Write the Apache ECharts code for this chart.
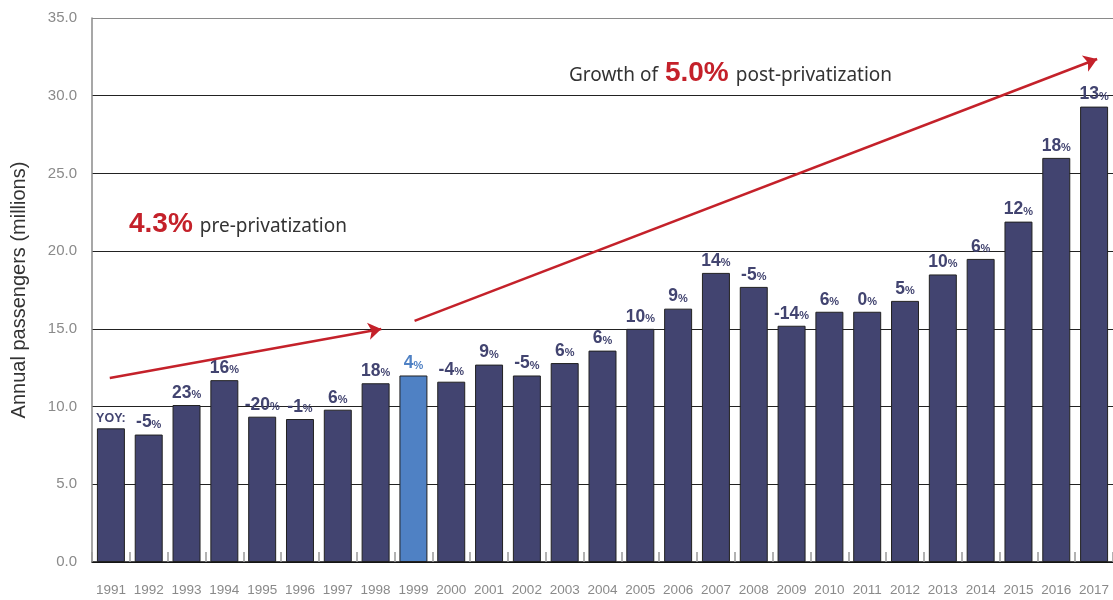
<!DOCTYPE html>
<html>
<head>
<meta charset="utf-8">
<script src="https://cdn.jsdelivr.net/npm/echarts@6/dist/echarts.min.js"></script>
<style>
  html, body { margin: 0; padding: 0; background: #fff; }
  #chart { width: 1113px; height: 600px; }
</style>
</head>
<body>
<div id="chart"></div>
<script>
// Annual passengers per year (millions)
const years = ['1991','1992','1993','1994','1995','1996','1997','1998','1999','2000','2001','2002','2003','2004',
               '2005','2006','2007','2008','2009','2010','2011','2012','2013','2014','2015','2016','2017'];
const passengers = [8.6, 8.2, 10.1, 11.7, 9.35, 9.2, 9.8, 11.5, 12.0, 11.6, 12.7, 12.0, 12.8, 13.6,
                    15.0, 16.3, 18.6, 17.7, 15.2, 16.1, 16.1, 16.8, 18.5, 19.5, 21.9, 26.0, 29.3];
// Year-over-year change, percent (first year carries the "YOY:" caption)
const yoyGrowth = [null, -5, 23, 16, -20, -1, 6, 18, 4, -4, 9, -5, 6, 6,
                   10, 9, 14, -5, -14, 6, 0, 5, 10, 6, 12, 18, 13];
const yTicks = [0, 5, 10, 15, 20, 25, 30, 35];
const highlightYear = '1999';

// Trend arrows in (category index, millions)
const preArrow = [[-0.03, 11.84], [7.15, 14.99]];
const postArrow = [[8.03, 15.51], [26.08, 32.36]];

const NAVY = '#424470';
const LIGHT = '#4f81c4';
const RED = '#c4212a';
const SANS = 'Liberation Sans, Arial, sans-serif';

const barData = passengers.map((v, i) => {
  const c = years[i] === highlightYear ? LIGHT : NAVY;
  return {
    value: v,
    itemStyle: { color: c },
    label: {
      formatter: yoyGrowth[i] === null ? '{y|YOY:}' : '{v|' + yoyGrowth[i] + '}{p|%}',
      rich: {
        v: { fontSize: 17.5, fontWeight: 'bold', color: c, fontFamily: SANS },
        p: { fontSize: 11, fontWeight: 'bold', color: c, fontFamily: SANS, padding: [4, 0, 0, 0] },
        y: { fontSize: 12.5, fontWeight: 'bold', color: c, fontFamily: SANS }
      }
    }
  };
});

const gridLineColors = yTicks.map((t, i) => i === yTicks.length - 1 ? '#8a8a8a' : '#222');

const chart = echarts.init(document.getElementById('chart'), null, { renderer: 'canvas' });
chart.setOption({
  animation: false,
  grid: { left: 92, top: 18, bottom: 38, width: 1023, containLabel: false },
  xAxis: [{
    type: 'category',
    data: years,
    axisLine: { lineStyle: { color: '#111', width: 1.5 } },
    axisTick: { show: true, inside: true, length: 10, lineStyle: { color: '#999', width: 1.5 } },
    axisLabel: { color: '#8a8a8a', fontSize: 13.5, margin: 21, fontFamily: SANS, interval: 0 }
  }, {
    type: 'value',
    min: -0.5, max: 26.5,
    show: false
  }],
  yAxis: {
    type: 'value',
    min: 0, max: 35, interval: 5,
    name: 'Annual passengers (millions)',
    nameLocation: 'middle',
    nameGap: 63,
    nameTextStyle: { color: '#333', fontSize: 20, fontFamily: SANS },
    axisLine: { show: true, onZero: false, lineStyle: { color: '#8a8a8a', width: 1.5 } },
    axisTick: { show: false },
    axisLabel: { color: '#8a8a8a', fontSize: 15, margin: 15, fontFamily: SANS,
                 formatter: v => v.toFixed(1) },
    splitLine: { show: true, lineStyle: { color: gridLineColors, width: 1.2 } }
  },
  series: [{
    type: 'bar',
    data: barData,
    barCategoryGap: '26%',
    itemStyle: { borderColor: '#222', borderWidth: 1 },
    label: { show: true, position: 'top', distance: 3 },
    z: 2
  }, {
    type: 'lines',
    coordinateSystem: 'cartesian2d',
    xAxisIndex: 1,
    yAxisIndex: 0,
    symbol: ['none', 'arrow'],
    symbolSize: [9, 13],
    lineStyle: { color: RED, width: 2.5, opacity: 1, curveness: 0 },
    data: [{ coords: preArrow }, { coords: postArrow }],
    z: 5
  }],
  graphic: [{
    type: 'text',
    left: 129, top: 210,
    style: {
      text: '{a|4.3%}{b|pre-privatization}',
      rich: {
        a: { fontSize: 28, fontWeight: 'bold', fill: RED, fontFamily: SANS, padding: [0, 7, 0, 0] },
        b: { fontSize: 19, fill: '#333', fontFamily: 'Noto Sans, Liberation Sans, sans-serif', padding: [5, 0, 0, 0] }
      }
    }
  }, {
    type: 'text',
    left: 569, top: 59,
    style: {
      text: '{b|Growth of}{a|5.0%}{b|post-privatization}',
      rich: {
        a: { fontSize: 28, fontWeight: 'bold', fill: RED, fontFamily: SANS, padding: [0, 7, 0, 7] },
        b: { fontSize: 19, fill: '#333', fontFamily: 'Noto Sans, Liberation Sans, sans-serif', padding: [5, 0, 0, 0] }
      }
    }
  }]
});
</script>
</body>
</html>
